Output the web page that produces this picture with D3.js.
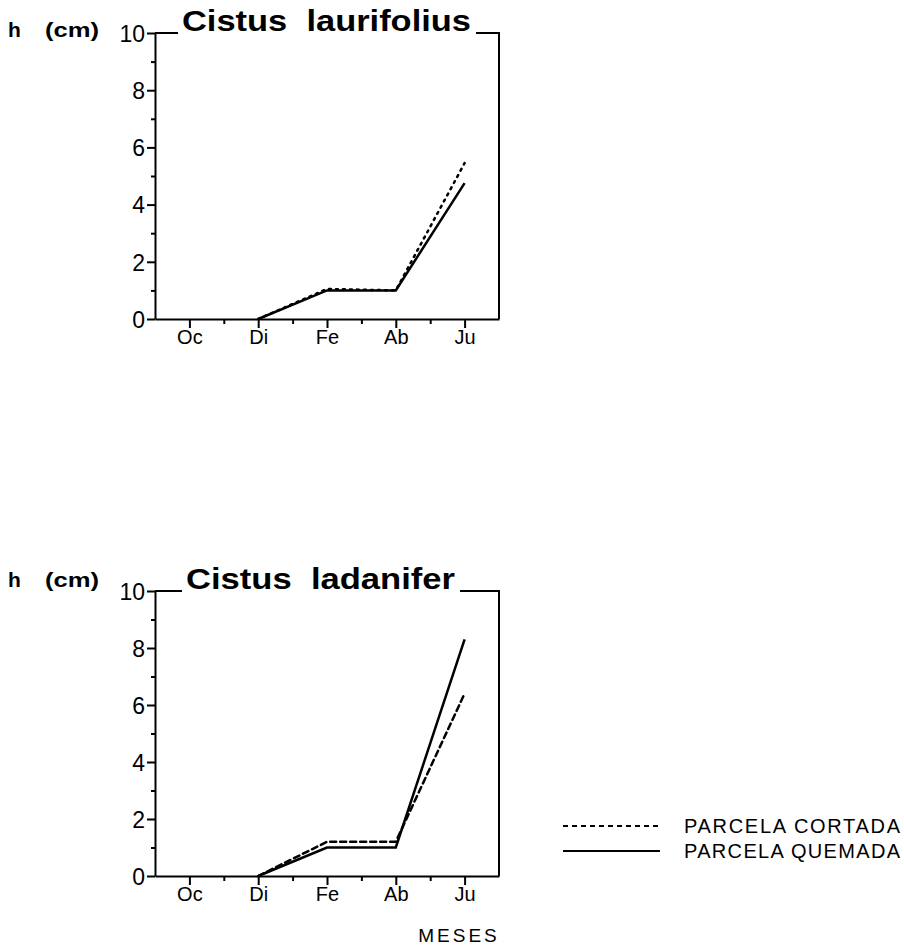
<!DOCTYPE html>
<html>
<head>
<meta charset="utf-8">
<script src="https://cdn.jsdelivr.net/npm/d3@7"></script>
<style>
  body { margin: 0; background: #fff; }
  svg { display: block; font-family: "Liberation Sans", Arial, sans-serif; }
</style>
</head>
<body>
<div id="chart"></div>
<script>
// months on the x axis, put on the odd half-month slots 1,3,5,7,9
var months = ["Oc", "Di", "Fe", "Ab", "Ju"];
var monthSlots = [1, 3, 5, 7, 9];

// heights (cm), null = not measured
var laurifoliusCortada = [null, 0, 1.05, 1.0, 5.45];
var laurifoliusQuemada = [null, 0, 1.0, 1.0, 4.75];
var ladaniferCortada = [null, 0, 1.2, 1.2, 6.4];
var ladaniferQuemada = [null, 0, 1.0, 1.0, 8.3];

var yTicks = [0, 1, 2, 3, 4, 5, 6, 7, 8, 9, 10];
var legendLabels = ["PARCELA CORTADA", "PARCELA QUEMADA"];

var width = 904, height = 950;
var svg = d3.select("#chart").append("svg")
  .attr("width", width)
  .attr("height", height);

var left = 155, right = 499;
var x = d3.scaleLinear().domain([0, 10]).range([left, right]);

var panels = [
  { title: "Cistus laurifolius", top: 33, bottom: 319, tx0: 182, tx1: 471,
    cortada: laurifoliusCortada, quemada: laurifoliusQuemada, dash: "2,5", hy: 30, xlab: false },
  { title: "Cistus ladanifer", top: 591, bottom: 876, tx0: 186, tx1: 455,
    cortada: ladaniferCortada, quemada: ladaniferQuemada, dash: "6,4", hy: 580, xlab: true }
];

panels.forEach(function (p) {
  var y = d3.scaleLinear().domain([0, 10]).range([p.bottom, p.top]);
  var g = svg.append("g");

  // y axis
  var yAxis = d3.axisLeft(y)
    .tickValues(yTicks)
    .tickFormat(function (d) { return d % 2 === 0 ? d : ""; })
    .tickSizeOuter(0);
  var ya = g.append("g").attr("transform", "translate(" + left + ",0)").call(yAxis);
  ya.select(".domain").attr("stroke", "#000").attr("stroke-width", 2);
  ya.selectAll(".tick line")
    .attr("stroke-width", 2)
    .attr("x2", function (d) { return d % 2 === 0 ? -8 : -4; });
  ya.selectAll(".tick text")
    .attr("x", -10)
    .attr("dy", "0.36em")
    .attr("font-size", 23)
    .attr("font-family", "Liberation Sans, Arial, sans-serif")
    .attr("fill", "#000");

  // x axis
  var xAxis = d3.axisBottom(x)
    .tickValues(d3.range(1, 11))
    .tickFormat(function (d) {
      var i = monthSlots.indexOf(d);
      return i >= 0 ? months[i] : "";
    })
    .tickSizeOuter(0);
  var xa = g.append("g").attr("transform", "translate(0," + p.bottom + ")").call(xAxis);
  xa.select(".domain").attr("stroke", "#000").attr("stroke-width", 2);
  xa.selectAll(".tick line")
    .attr("stroke-width", 2)
    .attr("y2", function (d) { return d === 10 ? 0 : (d % 2 === 1 ? 9 : 5); });
  xa.selectAll(".tick text")
    .attr("y", 11)
    .attr("font-size", 20)
    .attr("font-family", "Liberation Sans, Arial, sans-serif")
    .attr("fill", "#000");

  // frame: top line broken by title, right edge
  g.append("path")
    .attr("d", "M" + left + "," + p.top + "H" + (p.tx0 - 4) +
               "M" + (p.tx1 + 5) + "," + p.top + "H" + right + "V" + p.bottom)
    .attr("fill", "none").attr("stroke", "#000").attr("stroke-width", 2);

  g.append("text")
    .attr("x", p.tx0).attr("y", p.top - 2)
    .attr("textLength", p.tx1 - p.tx0)
    .attr("lengthAdjust", "spacingAndGlyphs")
    .attr("font-size", 29).attr("font-weight", "bold")
    .text(p.title.replace(" ", "\u00a0 "));

  // axis unit label "h (cm)"
  g.append("text")
    .attr("x", 8).attr("y", p.hy + 7)
    .attr("font-size", 21).attr("font-weight", "bold")
    .text("h");
  g.append("text")
    .attr("x", 45).attr("y", p.hy + 7)
    .attr("font-size", 21).attr("font-weight", "bold")
    .attr("textLength", 54)
    .attr("lengthAdjust", "spacingAndGlyphs")
    .text("(cm)");

  // series
  var line = d3.line()
    .defined(function (d) { return d != null; })
    .x(function (d, i) { return x(monthSlots[i]); })
    .y(function (d) { return y(d); });

  g.append("path").datum(p.cortada)
    .attr("d", line).attr("fill", "none")
    .attr("stroke", "#000").attr("stroke-width", 2.5)
    .attr("stroke-dasharray", p.dash).attr("stroke-linecap", "round");

  g.append("path").datum(p.quemada)
    .attr("d", line).attr("fill", "none")
    .attr("stroke", "#000").attr("stroke-width", 2.5);

  if (p.xlab) {
    g.append("text")
      .attr("x", 459).attr("y", 942)
      .attr("text-anchor", "middle")
      .attr("font-size", 19)
      .style("letter-spacing", "3px")
      .text("MESES");
  }
});

// legend
var legend = svg.append("g").attr("transform", "translate(563,826)");
legendLabels.forEach(function (lab, i) {
  var row = legend.append("g").attr("transform", "translate(0," + (i * 25) + ")");
  row.append("line")
    .attr("x1", 0).attr("x2", 97)
    .attr("stroke", "#000").attr("stroke-width", 2)
    .attr("stroke-dasharray", i === 0 ? "5,4" : null);
  row.append("text")
    .attr("x", 121).attr("y", 7)
    .attr("font-size", 20)
    .attr("textLength", 216)
    .attr("lengthAdjust", "spacing")
    .text(lab);
});
</script>
</body>
</html>
